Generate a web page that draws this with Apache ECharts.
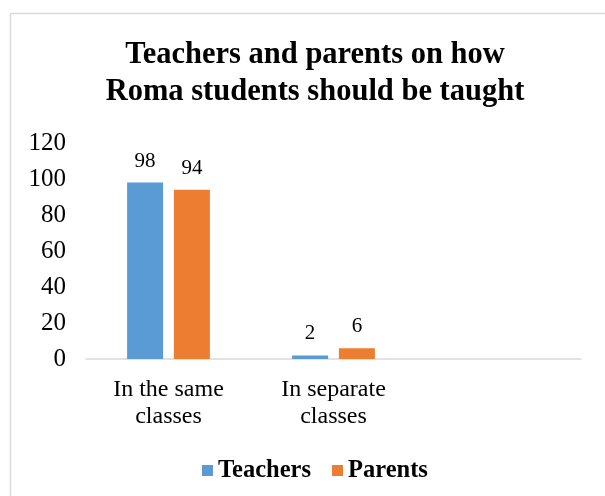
<!DOCTYPE html>
<html><head><meta charset="utf-8">
<script src="https://cdn.jsdelivr.net/npm/echarts@6/dist/echarts.min.js"></script>
<style>html,body{margin:0;padding:0;background:#fff}#c{width:605px;height:496px}</style>
</head><body><div id="c"></div>
<script>
const categories = ['In the same\nclasses', 'In separate\nclasses', ''];
const teachers = [98, 2, null];
const parents = [94, 6, null];
const yTicks = [0, 20, 40, 60, 80, 100, 120];

const F = '"Liberation Serif", "Times New Roman", serif';
const chart = echarts.init(document.getElementById('c'));
chart.setOption({
  animation: false,
  backgroundColor: '#fff',
  graphic: [{
    type: 'rect', shape: {x: 10.5, y: 13.5, width: 700, height: 600},
    style: {fill: 'none', stroke: '#d9d9d9', lineWidth: 1.5}, silent: true
  }],
  title: {
    text: 'Teachers and parents on how\nRoma students should be taught',
    left: 310, textAlign: 'center', top: 32,
    textStyle: {fontFamily: F, fontWeight: 'bold', fontSize: 30.5, lineHeight: 37, color: '#000'}
  },
  legend: {
    top: 453, left: 197, itemWidth: 11, itemHeight: 11, itemGap: 21,
    icon: 'rect',
    textStyle: {fontFamily: F, fontWeight: 'bold', fontSize: 24.5, color: '#000'}
  },
  grid: {left: 86, right: 24, top: 143, bottom: 137},
  xAxis: {
    type: 'category', data: categories,
    axisLine: {lineStyle: {color: '#d9d9d9', width: 1.5}},
    axisTick: {show: false},
    axisLabel: {fontFamily: F, fontSize: 24, color: '#000', lineHeight: 27, margin: 17, interval: 0}
  },
  yAxis: {
    type: 'value', min: 0, max: 120, interval: 20,
    axisLine: {show: false}, axisTick: {show: false}, splitLine: {show: false},
    axisLabel: {fontFamily: F, fontSize: 25, color: '#000', margin: 20,
      formatter: v => yTicks.includes(v) ? String(v) : ''}
  },
  series: [
    {name: 'Teachers', type: 'bar', data: teachers, barWidth: 36, barGap: '30%',
     itemStyle: {color: '#5b9bd5'},
     label: {show: true, position: 'top', distance: 11, fontFamily: F, fontSize: 21, color: '#000'}},
    {name: 'Parents', type: 'bar', data: parents, barWidth: 36,
     itemStyle: {color: '#ed7d31'},
     label: {show: true, position: 'top', distance: 11, fontFamily: F, fontSize: 21, color: '#000'}}
  ]
});
</script></body></html>
